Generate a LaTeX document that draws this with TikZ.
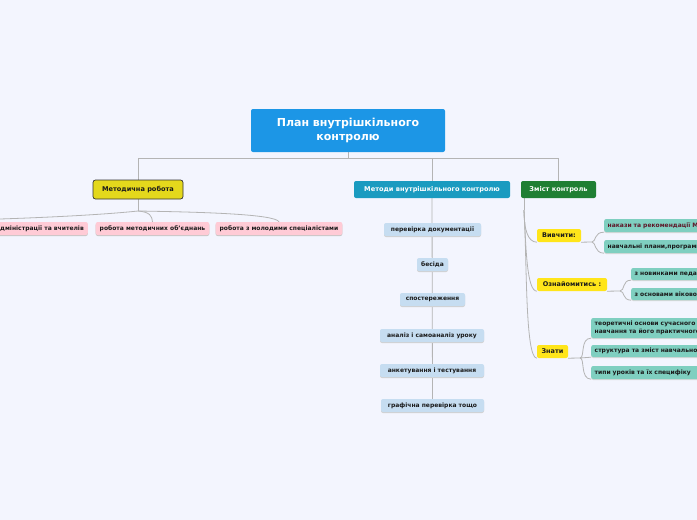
\documentclass[tikz,border=0pt]{standalone}
\usepackage{fontspec}
\setmainfont{DejaVu Sans}
\usetikzlibrary{backgrounds,shadows}
\definecolor{bgc}{HTML}{F3F5FE}
\definecolor{cblue}{HTML}{1C96E6}
\definecolor{myel}{HTML}{E4D81C}
\definecolor{kblue}{HTML}{1A9BC0}
\definecolor{zgreen}{HTML}{1F7F33}
\definecolor{pinkc}{HTML}{FFCBD6}
\definecolor{lblue}{HTML}{C6DDF1}
\definecolor{yelc}{HTML}{FFE51A}
\definecolor{tealc}{HTML}{7FCFC0}
\definecolor{linec}{HTML}{B4B4B4}
\definecolor{txt}{HTML}{1A1A1A}
\definecolor{maroon}{HTML}{5E1628}
\tikzset{
  x=1pt, y=-1pt,
  basebox/.style={rectangle, rounded corners=2pt, inner sep=0pt, inner xsep=4pt,
    font=\bfseries\fontsize{6}{7.5}\selectfont, text=txt, align=center},
  lvlone/.style={basebox, minimum height=17pt, font=\bfseries\fontsize{6.6}{8}\selectfont},
  pinkbox/.style={basebox, fill=pinkc, minimum height=13pt,
    drop shadow={shadow xshift=0pt, shadow yshift=-1pt, fill=black!22, opacity=1}},
  bluebox/.style={basebox, fill=lblue, minimum height=13pt,
    drop shadow={shadow xshift=0pt, shadow yshift=-1pt, fill=black!18, opacity=1}},
  yelbox/.style={basebox, fill=yelc, minimum height=13pt, inner xsep=3.5pt, font=\bfseries\fontsize{6.5}{8}\selectfont},
  tealbox/.style={basebox, fill=tealc, minimum height=13pt, text width=150pt, align=left, inner xsep=3.5pt,
    drop shadow={shadow xshift=0pt, shadow yshift=-1pt, fill=black!15, opacity=1}},
  conn/.style={draw=linec, line width=0.8pt},
}
\begin{document}
\begin{tikzpicture}
\useasboundingbox (0,0) rectangle (697,520);
% central
\node[rectangle, rounded corners=2pt, fill=cblue, minimum width=194pt, minimum height=43pt,
  inner sep=0pt, text=white, align=center, font=\bfseries\fontsize{11}{13.5}\selectfont]
  (c) at (348,130.5) {План внутрішкільного\\контролю};
% level one
\node[lvlone, fill=myel, draw=black!80, line width=0.7pt, rounded corners=2.5pt, minimum width=90pt, minimum height=19pt] (m) at (138,189.5) {Методична робота};
\node[lvlone, fill=kblue, text=white, minimum width=156pt] (k) at (432,189.5) {Методи внутрішкільного контролю};
\node[lvlone, fill=zgreen, text=white, minimum width=75pt] (z) at (558.5,189.5) {Зміст контроль};
% pink
\node[pinkbox, anchor=east] (p1) at (88,228.5) {адміністрації та вчителів};
\node[pinkbox, minimum width=111pt] (p2) at (152.5,228.5) {робота методичних об'єднань};
\node[pinkbox, minimum width=124pt] (p3) at (279,228.5) {робота з молодими спеціалістами};
% light blue
\node[bluebox, minimum width=97pt] (g1) at (432.5,229.5) {перевірка документації};
\node[bluebox, minimum width=31pt] (g2) at (432.5,264.5) {бесіда};
\node[bluebox, minimum width=65pt] (g3) at (432.5,299.5) {спостереження};
\node[bluebox, minimum width=104pt] (g4) at (432,335.5) {аналіз і самоаналіз уроку};
\node[bluebox, minimum width=104pt] (g5) at (432,370.5) {анкетування і тестування};
\node[bluebox, minimum width=103pt] (g6) at (432.5,405.5) {графічна перевірка тощо};
% yellow
\node[yelbox, minimum width=44pt] (v) at (559,235.5) {Вивчити:};
\node[yelbox, minimum width=70pt] (o) at (572,284.5) {Ознайомитись :};
\node[yelbox, minimum width=31pt] (zn) at (552.5,351.5) {Знати};
% teal
\node[tealbox, anchor=west, text=maroon] (t1) at (604,225.5) {накази та рекомендації М};
\node[tealbox, anchor=west] (t2) at (604,246.5) {навчальні плани,програми};
\node[tealbox, anchor=west, minimum height=12pt] (t3) at (631,274) {з новинками педагогіки};
\node[tealbox, anchor=west, minimum height=12pt] (t4) at (631,294) {з основами вікової};
\node[tealbox, anchor=west, minimum height=20pt] (t5) at (591,328) {теоретичні основи сучасного\\навчання та його практичного};
\node[tealbox, anchor=west, minimum height=12pt] (t6) at (591,351) {структура та зміст навчального};
\node[tealbox, anchor=west] (t7) at (591,372.5) {типи уроків та їх специфіку};
% coordinates
\coordinate (h) at (348,158);
\coordinate (mb) at (138,211);
\coordinate (zs) at (524,198);
\coordinate (zb) at (524,210);
\coordinate (vb) at (592,242);
\coordinate (ob) at (620,291);
\coordinate (nb) at (580,358);
\begin{pgfonlayer}{background}
\fill[bgc] (0,0) rectangle (697,520);
\draw[conn] (c.south) -- (h);
\draw[conn] (h) -| (m.north);
\draw[conn] (h) -| (k.north);
\draw[conn] (h) -| (z.north);
% metodychna
\draw[conn] (m.south) -- (mb);
\draw[conn] (mb) .. controls (110,214) and (60,217) .. (0,219);
\draw[conn] (mb) .. controls (150,212) and (152,216) .. (p2.north);
\draw[conn] (mb) .. controls (200,212) and (275,214) .. (p3.north);
% methods
\draw[conn] (k.south) -- (g6.north);
% zmist
\draw[conn] (zs) -- (zb);
\draw[conn] (zb) .. controls (524,230) and (528,242) .. (v.south west);
\draw[conn] (zb) .. controls (526,250) and (527,291) .. (o.south west);
\draw[conn] (zb) .. controls (527,260) and (525,358) .. (zn.south west);
% vyvchyty
\draw[conn] (v.south east) -- (vb);
\draw[conn] (vb) .. controls (596,242) and (594,232) .. (t1.south west);
\draw[conn] (vb) .. controls (596,242) and (594,253) .. (t2.south west);
% oznaiomytys
\draw[conn] (o.south east) -- (ob);
\draw[conn] (ob) .. controls (625,291) and (622,280) .. (t3.south west);
\draw[conn] (ob) .. controls (625,291) and (622,300) .. (t4.south west);
% znaty
\draw[conn] (zn.south east) -- (nb);
\draw[conn] (nb) .. controls (585,358) and (580,338) .. (t5.south west);
\draw[conn] (nb) -- (t6.south west);
\draw[conn] (nb) .. controls (585,358) and (580,379) .. (t7.south west);
\end{pgfonlayer}
\end{tikzpicture}
\end{document}
